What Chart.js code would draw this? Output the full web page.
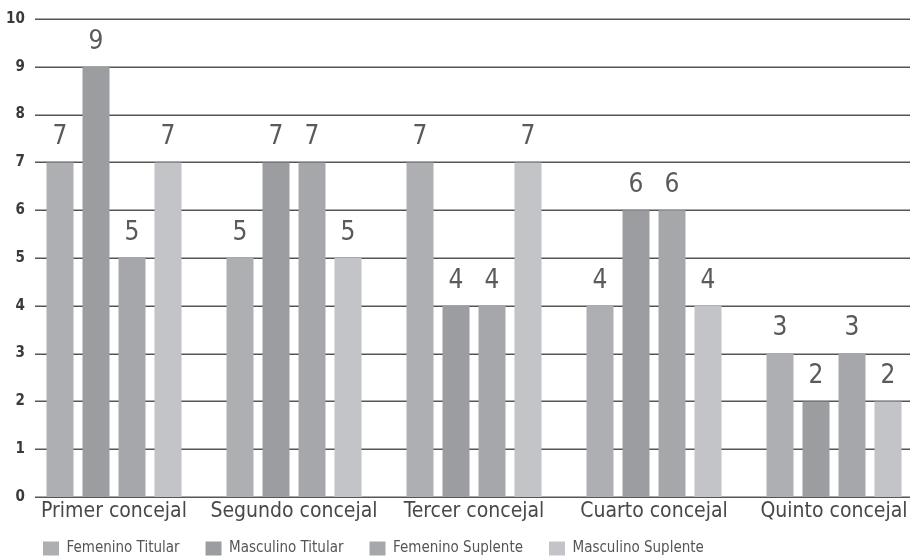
<!DOCTYPE html>
<html><head><meta charset="utf-8">
<script src="https://cdn.jsdelivr.net/npm/chart.js@4"></script>
<style>
html,body{margin:0;padding:0;background:#fff;overflow:hidden;width:910px;height:557px}
#wrap{width:924px;height:566px;position:relative}
</style></head><body>
<div id="wrap"><canvas id="c"></canvas></div>
<script>
const categories = ["Primer concejal","Segundo concejal","Tercer concejal","Cuarto concejal","Quinto concejal"];
const femeninoTitular = [7,5,7,4,3];
const masculinoTitular = [9,7,4,6,2];
const femeninoSuplente = [5,7,4,6,3];
const masculinoSuplente = [7,5,7,4,2];
const yTicks = [0,1,2,3,4,5,6,7,8,9,10];

const FONT = "'Liberation Sans Narrow','DejaVu Sans Condensed',sans-serif";

const gridPlugin = {
  id:'grid',
  beforeDatasetsDraw(chart){
    const {ctx, chartArea, scales} = chart;
    ctx.save();
    ctx.strokeStyle = '#555';
    ctx.lineWidth = 1.5;
    yTicks.forEach(v=>{
      const y = Math.round(scales.y.getPixelForValue(v))+0.25;
      ctx.beginPath(); ctx.moveTo(35,y); ctx.lineTo(chartArea.right,y); ctx.stroke();
    });
    ctx.restore();
  }
};
const labelPlugin = {
  id:'vals',
  afterDatasetsDraw(chart){
    const {ctx} = chart;
    ctx.save();
    ctx.font = "26px " + FONT;
    ctx.fillStyle = '#5a5a5a';
    ctx.textAlign = 'center';
    ctx.textBaseline = 'middle';
    chart.data.datasets.forEach((ds,i)=>{
      chart.getDatasetMeta(i).data.forEach((el,j)=>{
        ctx.fillText(String(ds.data[j]), el.x, el.y - 25);
      });
    });
    ctx.restore();
  }
};

new Chart(document.getElementById('c'), {
  type:'bar',
  data:{
    labels:categories,
    datasets:[
      {label:'Femenino Titular', data:femeninoTitular, backgroundColor:'#aeafb2'},
      {label:'Masculino Titular', data:masculinoTitular, backgroundColor:'#9c9da0'},
      {label:'Femenino Suplente', data:femeninoSuplente, backgroundColor:'#a6a7aa'},
      {label:'Masculino Suplente', data:masculinoSuplente, backgroundColor:'#c3c4c7'}
    ]
  },
  options:{
    responsive:true, maintainAspectRatio:false, animation:false,
    layout:{padding:{top:19,left:17,right:0,bottom:0}},
    datasets:{bar:{categoryPercentage:0.8, barPercentage:0.75}},
    scales:{
      x:{
        grid:{display:false, drawTicks:false}, border:{display:false},
        ticks:{font:{family:FONT,size:21}, color:'#484848', padding:-27, mirror:true, maxRotation:0, autoSkip:false},
        afterFit(s){ s.height = 18; }
      },
      y:{
        min:0, max:10,
        grid:{display:false, drawTicks:false}, border:{display:false},
        ticks:{stepSize:1, font:{family:FONT,size:15,weight:'bold'}, color:'#3a3a3a', mirror:true, crossAlign:'far', padding:-18},
        afterFit(s){ s.width = 7; }
      }
    },
    plugins:{
      legend:{
        position:'bottom', align:'start',
        labels:{font:{family:FONT,size:15}, color:'#555', boxWidth:16, boxHeight:14, padding:26}
      },
      tooltip:{enabled:false}
    }
  },
  plugins:[gridPlugin,labelPlugin]
});
</script>
</body></html>
